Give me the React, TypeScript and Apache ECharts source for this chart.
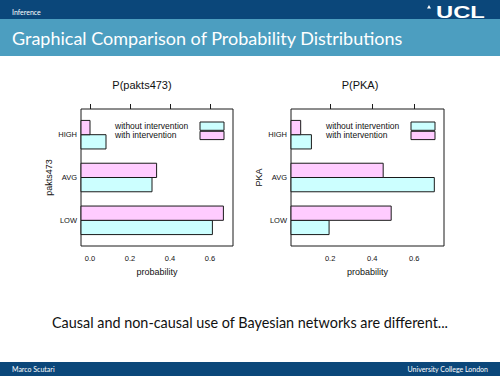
import React, { useEffect, useRef } from 'react';
import * as echarts from 'echarts';

const levels = ['LOW', 'AVG', 'HIGH'];
const tickValuesLeft = [0, 0.2, 0.4, 0.6];
const tickValuesRight = [0.2, 0.4, 0.6];
const seriesNames = ['without intervention', 'with intervention'];
const pakts473Without = [0.612, 0.31, 0.08];
const pakts473With = [0.667, 0.333, 0.0];
const pkaWithout = [0.195, 0.695, 0.111];
const pkaWith = [0.49, 0.452, 0.06];
const panelTitles = ['P(pakts473)', 'P(PKA)'];
const panelVars = ['pakts473', 'PKA'];
const slideTitle = 'Graphical Comparison of Probability Distributions';
const sectionName = 'Inference';
const caption = 'Causal and non-causal use of Bayesian networks are different...';
const author = 'Marco Scutari';
const institute = 'University College London';

const CYAN = '#CCFFFF';
const PINK = '#FFCCFF';
const DARK = '#0b477a';
const LIGHT = '#4c9ec0';
const RFONT = '"Liberation Sans", Arial, sans-serif';
const SLIDEFONT = 'Lato, "Open Sans", sans-serif';

const panels = [
  { left: 81, width: 152, xmin: -0.045, xmax: 0.715, ticks: tickValuesLeft, without: pakts473Without, withI: pakts473With, titleX: 142, legendLeft: 115 },
  { left: 291, width: 153, xmin: 0.014, xmax: 0.741, ticks: tickValuesRight, without: pkaWithout, withI: pkaWith, titleX: 360, legendLeft: 326 },
];

function makeRender(xStart: number, upper: boolean, color: string) {
  return (params: any, api: any) => {
    const v = api.value(0);
    const pos = api.value(1);
    const half = 1 / 3;
    const yTop = upper ? pos + half : pos;
    const yBot = upper ? pos : pos - half;
    const a = api.coord([xStart, yTop]);
    const b = api.coord([v, yBot]);
    return {
      type: 'rect',
      shape: { x: a[0], y: a[1], width: b[0] - a[0], height: b[1] - a[1] },
      style: { fill: color, stroke: '#1a1a1a', lineWidth: 1 },
    };
  };
}

export default function App() {
  const ref = useRef<HTMLDivElement>(null);
  useEffect(() => {
    if (!ref.current) return;
    const chart = echarts.init(ref.current, undefined, { renderer: 'svg' });
    const grid: any[] = [];
    const xAxis: any[] = [];
    const yAxis: any[] = [];
    const series: any[] = [];
    const legend: any[] = [];
    const graphic: any[] = [];

    panels.forEach((p, i) => {
      grid.push({
        left: p.left, top: 109, width: p.width, height: 137,
        show: true, borderColor: '#1a1a1a', borderWidth: 1, backgroundColor: 'transparent',
      });
      xAxis.push({
        gridIndex: i, type: 'value', position: 'bottom', min: p.xmin, max: p.xmax,
        axisLine: { show: false }, axisTick: { show: false }, splitLine: { show: false },
        axisLabel: { customValues: p.ticks, formatter: (v: number) => v.toFixed(1), fontSize: 7.5, color: '#111', margin: 8, fontFamily: RFONT },
        name: 'probability', nameLocation: 'middle', nameGap: 21,
        nameTextStyle: { fontSize: 9, color: '#111', fontFamily: RFONT },
      });
      xAxis.push({
        gridIndex: i, type: 'value', position: 'top', min: p.xmin, max: p.xmax,
        axisLine: { show: false }, splitLine: { show: false },
        axisTick: { show: true, customValues: p.ticks, length: 5, lineStyle: { color: '#1a1a1a', width: 1 } },
        axisLabel: { show: false, customValues: p.ticks },
      });
      yAxis.push({
        gridIndex: i, type: 'value', min: 0.4, max: 3.6,
        axisLine: { show: false }, axisTick: { show: false }, splitLine: { show: false },
        axisLabel: {
          customValues: [1, 2, 3],
          formatter: (v: number) => levels[Math.round(v) - 1],
          fontSize: 7.5, color: '#111', margin: 4, fontFamily: RFONT,
        },
        name: panelVars[i], nameLocation: 'middle', nameGap: 28, nameRotate: 90,
        nameTextStyle: { fontSize: 9, color: '#111', fontFamily: RFONT },
      });
      series.push({
        type: 'custom', name: seriesNames[0], xAxisIndex: 2 * i, yAxisIndex: i,
        itemStyle: { color: CYAN, borderColor: '#1a1a1a', borderWidth: 1 },
        renderItem: makeRender(p.xmin, false, CYAN),
        encode: { x: 0, y: 1 },
        data: p.without.map((v, k) => [v, k + 1]),
      });
      series.push({
        type: 'custom', name: seriesNames[1], xAxisIndex: 2 * i, yAxisIndex: i,
        itemStyle: { color: PINK, borderColor: '#1a1a1a', borderWidth: 1 },
        renderItem: makeRender(p.xmin, true, PINK),
        encode: { x: 0, y: 1 },
        data: p.withI.map((v, k) => [v, k + 1]),
      });
      legend.push({
        data: seriesNames, orient: 'vertical', left: p.legendLeft, top: 121.5,
        align: 'right', itemWidth: 24, itemHeight: 8.3, itemGap: 0, padding: 0,
        icon: 'rect', selectedMode: false,
        itemStyle: { borderColor: '#1a1a1a', borderWidth: 1 },
        formatter: (name: string) => '{a|' + name + '}',
        textStyle: {
          rich: { a: { width: 80, align: 'left', fontSize: 8.5, color: '#111', fontFamily: RFONT } },
        },
      });
      graphic.push({
        type: 'text', x: p.titleX, y: 85,
        style: { text: panelTitles[i], fontSize: 11, fill: '#111', fontFamily: RFONT, textAlign: 'center', textVerticalAlign: 'middle' },
      });
    });

    graphic.push(
      { type: 'rect', shape: { x: 0, y: 0, width: 500, height: 19 }, style: { fill: DARK }, z: -10 },
      { type: 'rect', shape: { x: 0, y: 19, width: 500, height: 37 }, style: { fill: LIGHT }, z: -10 },
      { type: 'rect', shape: { x: 0, y: 362, width: 500, height: 14 }, style: { fill: DARK }, z: -10 },
      { type: 'text', x: 12, y: 12, style: { text: sectionName, fontSize: 7, fill: '#fff', fontFamily: SLIDEFONT, textVerticalAlign: 'middle' } },
      { type: 'text', x: 12, y: 38, style: { text: slideTitle, fontSize: 18, fill: '#fff', fontFamily: SLIDEFONT, textVerticalAlign: 'middle' } },
      { type: 'text', x: 250, y: 322, style: { text: caption, fontSize: 14.4, fill: '#111', fontFamily: SLIDEFONT, textAlign: 'center', textVerticalAlign: 'middle' } },
      { type: 'text', x: 12, y: 369, style: { text: author, fontSize: 7, fill: '#fff', fontFamily: SLIDEFONT, textVerticalAlign: 'middle' } },
      { type: 'text', x: 488, y: 369, style: { text: institute, fontSize: 7, fill: '#fff', fontFamily: SLIDEFONT, textAlign: 'right', textVerticalAlign: 'middle' } },
      { type: 'text', x: 436, y: 11.5, scaleX: 1.4, style: { text: 'UCL', fontSize: 17, fontWeight: 'bold', fill: '#fff', fontFamily: '"Liberation Sans", Arial, sans-serif', textVerticalAlign: 'middle' } },
      { type: 'polygon', shape: { points: [[427, 8.5], [431, 8.5], [429, 5]] }, style: { fill: '#fff' } },
    );

    chart.setOption({
      animation: false,
      backgroundColor: '#fff',
      grid, xAxis, yAxis, series, legend, graphic,
    });
    return () => chart.dispose();
  }, []);
  return <div ref={ref} style={{ position: 'absolute', left: 0, top: 0, width: 500, height: 376 }} />;
}
